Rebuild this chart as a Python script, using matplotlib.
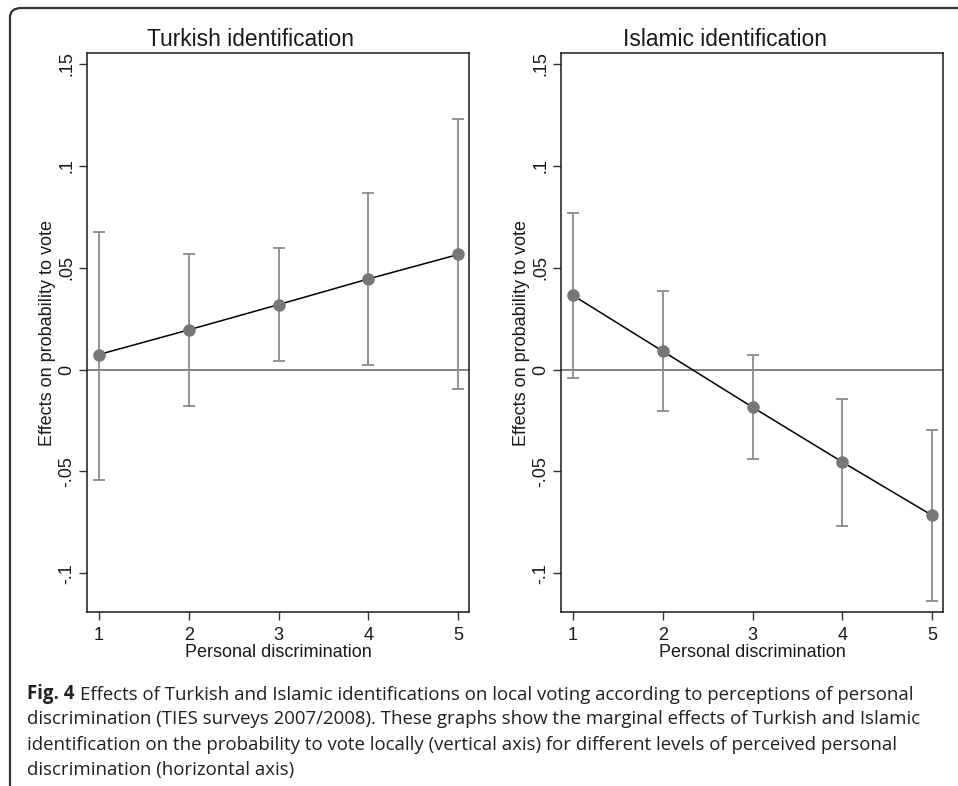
import numpy as np
import matplotlib
matplotlib.use("Agg")
from matplotlib import pyplot as plt
from matplotlib.patches import FancyBboxPatch

# discrimination levels
levels = [1, 2, 3, 4, 5]

# Turkish identification: marginal effect and 95% CI
turk_eff = [0.0074, 0.0195, 0.0319, 0.0445, 0.0565]
turk_lo = [-0.054, -0.018, 0.0041, 0.0021, -0.0097]
turk_hi = [0.0676, 0.0569, 0.0597, 0.0866, 0.1229]

# Islamic identification
isl_eff = [0.0364, 0.0090, -0.0185, -0.0454, -0.0716]
isl_lo = [-0.0039, -0.0201, -0.0438, -0.0766, -0.1136]
isl_hi = [0.0771, 0.0384, 0.0072, -0.0142, -0.0296]

yticks = [-0.1, -0.05, 0, 0.05, 0.1, 0.15]
yticklabels = ['-.1', '-.05', '0', '.05', '.1', '.15']

plt.rcParams['font.family'] = ['Liberation Sans', 'DejaVu Sans']

W, H = 958, 786
fig = plt.figure(figsize=(W / 100, H / 100), dpi=100)

# rounded frame around the figure (only top and left edges visible)
frame = FancyBboxPatch((10 / W, -20 / H), 1.2, (H - 8 + 20) / H,
                       boxstyle="round,pad=0,rounding_size=0.012",
                       transform=fig.transFigure, fill=False,
                       edgecolor='#333333', linewidth=1.6, clip_on=False)
fig.patches.append(frame)

panels = [
    (87, 'Turkish identification', turk_eff, turk_lo, turk_hi),
    (561, 'Islamic identification', isl_eff, isl_lo, isl_hi),
]

for left_px, title, eff, lo, hi in panels:
    ax = fig.add_axes([left_px / W, 1 - 612 / H, 382 / W, 559 / H])
    eff = np.array(eff)
    err = [eff - np.array(lo), np.array(hi) - eff]
    ax.axhline(0, color='#7a7a7a', linewidth=1.3, zorder=1)
    ax.errorbar(levels, eff, yerr=err, fmt='none', ecolor='#8a8a8a',
                elinewidth=1.3, capsize=4, capthick=1.3, zorder=2)
    ax.plot(levels, eff, color='black', linewidth=1.1, zorder=3)
    ax.plot(levels, eff, 'o', color='#777777', markersize=8, zorder=4)
    ax.set_xlim(0.866, 5.12)
    ax.set_ylim(-0.119, 0.1554)
    ax.set_xticks(levels)
    ax.set_yticks(yticks)
    ax.set_yticklabels(yticklabels, rotation=90, va='center')
    ax.tick_params(axis='both', labelsize=13, length=6, width=1,
                   color='#333333', labelcolor='#1a1a1a')
    ax.tick_params(axis='y', pad=2.5)
    ax.tick_params(axis='x', pad=5)
    for sp in ax.spines.values():
        sp.set_linewidth(1.1)
        sp.set_color('#1a1a1a')
    # Stata centres the title over the whole panel, incl. the y label
    ax.set_title(title, fontsize=16.4, pad=5, color='#1a1a1a', x=0.429)
    ax.set_xlabel('Personal discrimination', fontsize=13, labelpad=0,
                  color='#1a1a1a')
    ax.set_ylabel('Effects on probability to vote', fontsize=13,
                  labelpad=1.5, color='#1a1a1a')

# caption
cap_font = ['Open Sans', 'DejaVu Sans']
cap_size = 13.4
cap_color = '#231f20'
x0 = 27 / W
t1 = fig.text(x0, 1 - 699.5 / H, 'Fig. 4', fontsize=cap_size, fontweight='bold',
              family=cap_font, color=cap_color, va='baseline')
fig.canvas.draw()
bb = t1.get_window_extent()
fig.text((bb.x1 + 6) / W, 1 - 699.5 / H,
         'Effects of Turkish and Islamic identifications on local voting '
         'according to perceptions of personal',
         fontsize=cap_size, family=cap_font, color=cap_color, va='baseline')
cap_lines = [
    'discrimination (TIES surveys 2007/2008). These graphs show the marginal '
    'effects of Turkish and Islamic',
    'identification on the probability to vote locally (vertical axis) for '
    'different levels of perceived personal',
    'discrimination (horizontal axis)',
]
for i, line in enumerate(cap_lines):
    fig.text(x0, 1 - (724.5 + 25 * i) / H, line, fontsize=cap_size,
             family=cap_font, color=cap_color, va='baseline')

fig.savefig('out.png', dpi=100)
